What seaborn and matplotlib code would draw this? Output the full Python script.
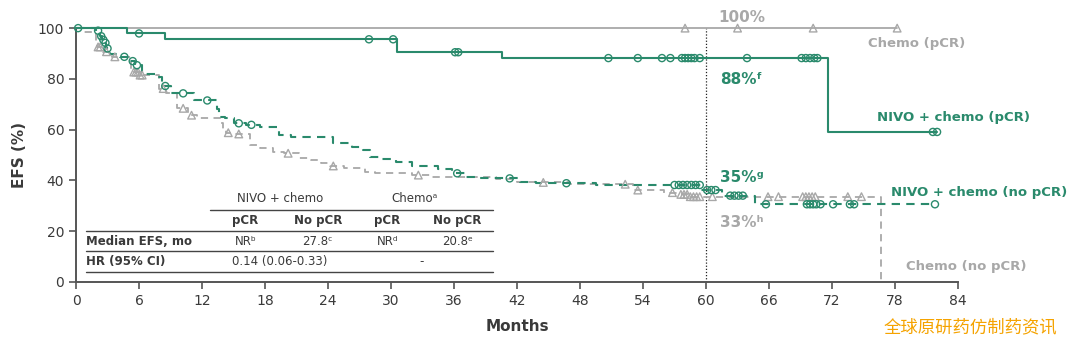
import numpy as np
import pandas as pd
import matplotlib
matplotlib.use("Agg")
import matplotlib.pyplot as plt
import seaborn as sns

# ---- Kaplan-Meier step data (months, EFS %) ----
nivo_pcr_t = [0, 4.9, 8.5, 30.6, 40.6, 71.6, 82.0]
nivo_pcr_s = [100, 97.9, 95.6, 90.5, 88.2, 59.1, 59.1]
nivo_pcr_cens = [6.0, 27.9, 30.2, 36.1, 36.4, 50.7, 53.5, 55.8, 56.6, 57.7, 58.0,
                 58.3, 58.6, 58.9, 59.4, 63.9, 69.1, 69.5, 69.9, 70.3, 70.6, 81.6, 82.0]

chemo_pcr_t = [0, 78.2]
chemo_pcr_s = [100, 100]
chemo_pcr_cens = [58.0, 63.0, 70.2, 78.2]

nivo_npcr_t = [0, 1.9, 2.3, 2.5, 2.7, 2.85, 3.2, 4.2, 5.0, 5.6, 6.3, 7.8, 8.2, 9.0,
               11.2, 13.4, 13.6, 14.2, 15.0, 16.2, 17.5, 19.3, 20.5, 24.5, 26.3,
               27.3, 28.0, 29.0, 30.5, 32.0, 34.5, 35.8, 37.0, 38.0, 42.3, 43.8,
               49.5, 59.5, 61.5, 64.7, 81.8]
nivo_npcr_s = [100, 99.0, 96.8, 95.4, 94.2, 92.0, 90.0, 88.7, 87.0, 85.4, 81.9, 80.7,
               77.2, 74.3, 71.5, 68.0, 65.0, 64.4, 62.5, 61.9, 60.9, 58.0, 57.2,
               54.6, 53.3, 52.0, 49.1, 48.4, 47.4, 45.7, 44.4, 42.8, 41.2, 40.8,
               39.5, 38.9, 38.2, 36.2, 34.0, 30.6, 30.6]
nivo_npcr_cens = [0.2, 2.1, 2.4, 2.6, 2.8, 3.0, 4.6, 5.4, 5.8, 8.5, 10.2, 12.5, 15.5,
                  16.7, 36.3, 41.3, 46.7, 57.0, 57.4, 57.8, 58.2, 58.6, 59.0, 59.4,
                  60.1, 60.5, 60.9, 62.3, 62.7, 63.1, 63.5, 65.7, 69.6, 69.9, 70.2,
                  70.5, 70.9, 72.1, 73.7, 74.1, 81.8]

chemo_npcr_t = [0, 0.8, 1.9, 2.0, 2.6, 3.4, 5.2, 6.0, 7.9, 8.6, 9.6, 10.7, 11.5, 13.8,
                14.0, 14.3, 15.1, 16.6, 17.5, 18.8, 19.8, 21.2, 22.4, 23.3, 24.2,
                25.5, 27.5, 28.5, 32.0, 33.8, 40.0, 42.0, 44.0, 47.0, 53.0, 56.0,
                57.5, 58.5, 76.7]
chemo_npcr_s = [100, 98.5, 94.0, 92.6, 90.7, 88.7, 82.7, 81.5, 76.2, 74.3, 68.4, 65.7,
                64.4, 62.5, 59.8, 58.8, 58.3, 53.9, 52.7, 51.3, 50.7, 48.7, 48.0,
                46.7, 45.7, 44.8, 43.4, 42.8, 42.1, 41.5, 40.5, 39.5, 39.2, 38.5,
                36.2, 35.2, 34.5, 33.6, 0]
chemo_npcr_cens = [2.1, 2.3, 2.9, 3.7, 5.5, 5.7, 5.9, 6.1, 6.3, 8.3, 10.2, 11.0, 14.5,
                   15.5, 20.2, 24.5, 32.6, 44.5, 52.3, 53.5, 56.8, 57.6, 57.9, 58.2,
                   58.5, 58.8, 59.1, 59.4, 60.6, 65.9, 66.9, 69.2, 69.5, 69.8, 70.1,
                   70.4, 73.5, 74.8]

x_ticks = list(range(0, 85, 6))
y_ticks = [0, 20, 40, 60, 80, 100]

GREEN = "#2a8a6c"
GRAY = "#a8a8a8"
DARK = "#3a3a3a"

sns.set_style("ticks")
plt.rcParams["font.family"] = ["DejaVu Sans", "Noto Sans CJK SC"]

fig = plt.figure(figsize=(10.8, 3.43), dpi=100)
ax = fig.add_axes([0.0704, 0.178, 0.8167, 0.740])


def surv_at(t_arr, s_arr, times):
    idx = np.searchsorted(np.asarray(t_arr), np.asarray(times), side="right") - 1
    return np.asarray(s_arr)[np.clip(idx, 0, None)]


curves = [
    (chemo_pcr_t, chemo_pcr_s, chemo_pcr_cens, GRAY, "-", "^", 1.3),
    (chemo_npcr_t, chemo_npcr_s, chemo_npcr_cens, GRAY, (0, (4, 3)), "^", 1.3),
    (nivo_npcr_t, nivo_npcr_s, nivo_npcr_cens, GREEN, (0, (4, 3)), "o", 1.5),
    (nivo_pcr_t, nivo_pcr_s, nivo_pcr_cens, GREEN, "-", "o", 1.5),
]

for t, s, cens, col, ls, mk, lw in curves:
    df = pd.DataFrame({"Months": t, "EFS": s})
    sns.lineplot(data=df, x="Months", y="EFS", ax=ax, color=col, linewidth=lw,
                 linestyle=ls, drawstyle="steps-post", estimator=None, sort=False,
                 clip_on=False, zorder=3)
    cdf = pd.DataFrame({"Months": cens, "EFS": surv_at(t, s, cens)})
    sns.scatterplot(data=cdf, x="Months", y="EFS", ax=ax, marker=mk,
                    s=26 if mk == "o" else 30,
                    facecolor="none", edgecolor=col, linewidth=1.0,
                    clip_on=False, zorder=4)

# 60-month landmark
ax.axvline(60, ymin=0, ymax=1, color="#222222", linestyle=(0, (1, 1.5)),
           linewidth=0.9, zorder=2)

ax.set_xlim(0, 84)
ax.set_ylim(0, 100)
ax.set_xticks(x_ticks)
ax.set_yticks(y_ticks)
ax.tick_params(axis="both", colors="#555555", labelcolor=DARK, labelsize=10,
               length=5, width=1.2, direction="out")
for side in ("top", "right"):
    ax.spines[side].set_visible(False)
for side in ("left", "bottom"):
    ax.spines[side].set_color("#555555")
    ax.spines[side].set_linewidth(1.4)
ax.set_xlabel("Months", fontsize=11, fontweight="bold", color=DARK, labelpad=8)
ax.set_ylabel("EFS (%)", fontsize=11, fontweight="bold", color=DARK, labelpad=8)

# Curve labels and landmark rates
ax.text(63.4, 104.3, "100%", color=GRAY, fontsize=11, fontweight="bold",
        ha="center", va="center")
ax.text(75.4, 94.1, "Chemo (pCR)", color=GRAY, fontsize=9.5, fontweight="bold",
        ha="left", va="center")
ax.text(61.3, 79.9, "88%ᶠ", color=GREEN, fontsize=11, fontweight="bold",
        ha="left", va="center")
ax.text(76.3, 64.6, "NIVO + chemo (pCR)", color=GREEN, fontsize=9.5,
        fontweight="bold", ha="left", va="center")
ax.text(61.3, 41.3, "35%ᵍ", color=GREEN, fontsize=11, fontweight="bold",
        ha="left", va="center")
ax.text(77.6, 35.4, "NIVO + chemo (no pCR)", color=GREEN, fontsize=9.5,
        fontweight="bold", ha="left", va="center")
ax.text(61.3, 23.6, "33%ʰ", color=GRAY, fontsize=11, fontweight="bold",
        ha="left", va="center")
ax.text(79.0, 5.9, "Chemo (no pCR)", color=GRAY, fontsize=9.5, fontweight="bold",
        ha="left", va="center")

# Summary table
T = ax.transAxes
tfs = 8.5
rule = dict(color="#444444", linewidth=1.0, transform=T, clip_on=False)
ax.plot([0.152, 0.473], [0.283, 0.283], **rule)
for yy in (0.201, 0.122, 0.039):
    ax.plot([0.0113, 0.473], [yy, yy], **rule)

ax.text(0.231, 0.327, "NIVO + chemo", transform=T, fontsize=tfs, color=DARK,
        ha="center", va="center")
ax.text(0.384, 0.327, "Chemoᵃ", transform=T, fontsize=tfs, color=DARK,
        ha="center", va="center")
for xx, lab in [(0.192, "pCR"), (0.274, "No pCR"), (0.353, "pCR"), (0.432, "No pCR")]:
    ax.text(xx, 0.244, lab, transform=T, fontsize=tfs, color=DARK, fontweight="bold",
            ha="center", va="center")
ax.text(0.0113, 0.161, "Median EFS, mo", transform=T, fontsize=tfs, color=DARK,
        fontweight="bold", ha="left", va="center")
for xx, lab in [(0.192, "NRᵇ"), (0.274, "27.8ᶜ"), (0.353, "NRᵈ"), (0.432, "20.8ᵉ")]:
    ax.text(xx, 0.161, lab, transform=T, fontsize=tfs, color=DARK,
            ha="center", va="center")
ax.text(0.0113, 0.079, "HR (95% CI)", transform=T, fontsize=tfs, color=DARK,
        fontweight="bold", ha="left", va="center")
ax.text(0.231, 0.079, "0.14 (0.06-0.33)", transform=T, fontsize=tfs, color=DARK,
        ha="center", va="center")
ax.text(0.392, 0.079, "-", transform=T, fontsize=tfs, color=DARK,
        ha="center", va="center")

fig.text(0.899, 0.047, "全球原研药仿制药资讯", color="#f5a300", fontsize=12.5,
         family=["Noto Sans CJK SC"], ha="center", va="center")

fig.savefig("out.png", dpi=100)
